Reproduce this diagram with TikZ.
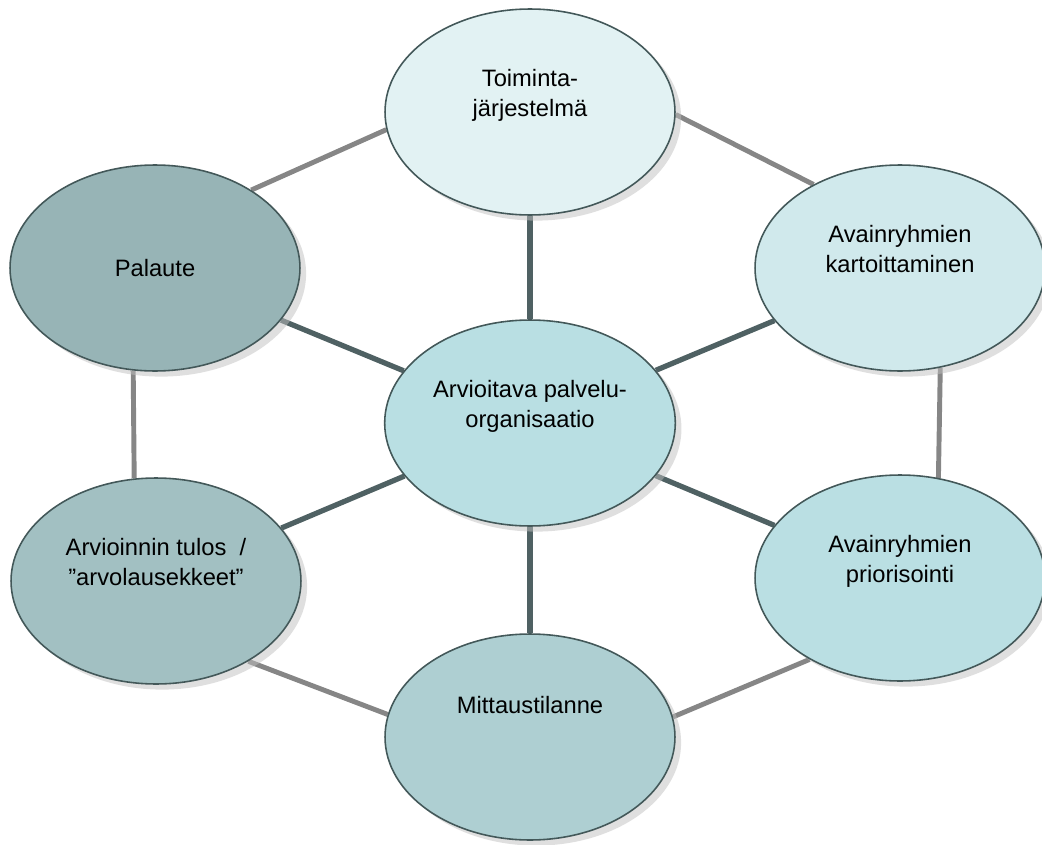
\documentclass[tikz,border=0pt]{standalone}
\usepackage{fontspec}
\setmainfont{Liberation Sans}
\usepackage{tikz}
\usetikzlibrary{shapes.geometric,shadows,backgrounds}

\definecolor{rim}{HTML}{435859}
\definecolor{spokegray}{HTML}{4F6163}
\definecolor{ringgray}{HTML}{868686}
\definecolor{toimfill}{HTML}{E2F2F3}
\definecolor{kartfill}{HTML}{D0E9EC}
\definecolor{priofill}{HTML}{BADFE3}
\definecolor{keskifill}{HTML}{B9DFE3}
\definecolor{mittfill}{HTML}{AECFD2}
\definecolor{arvifill}{HTML}{A2C0C2}
\definecolor{palafill}{HTML}{97B4B6}

\begin{document}
\begin{tikzpicture}
[
x=0.02cm, y=-0.02cm,
bubble/.style={ellipse, draw=rim, line width=0.9pt, minimum width=5.8cm, minimum height=4.12cm, align=center, font=\fontsize{13.5pt}{17pt}\selectfont, drop shadow={shadow xshift=3.5pt, shadow yshift=-3.2pt, fill=black!25}},
oneline/.style={text height=0pt, text depth=27pt},
twoline/.style={text height=5.5pt, text depth=0pt},
spoke/.style={draw=spokegray, line width=3pt},
ring/.style={draw=ringgray, line width=2.8pt}
]
\useasboundingbox (0,0) rectangle (1042,845);

%Nodes
\node[bubble, twoline, fill=toimfill]  (toim)  at (530,112) {Toiminta-\\järjestelmä};
\node[bubble, twoline, fill=kartfill]  (kart)  at (900,268) {Avainryhmien\\kartoittaminen};
\node[bubble, twoline, fill=priofill]  (prio)  at (900,578) {Avainryhmien\\priorisointi};
\node[bubble, oneline, fill=mittfill]  (mitt)  at (530,737) {Mittaustilanne};
\node[bubble, twoline, fill=arvifill]  (arvi)  at (156,581) {Arvioinnin tulos~ /\\”arvolausekkeet”};
\node[bubble,          fill=palafill]  (pala)  at (155,268) {Palaute};
\node[bubble, twoline, fill=keskifill] (keski) at (530,423) {Arvioitava palvelu-\\organisaatio};

%Lines
\begin{scope}[on background layer]
\draw[ring] (pala.39)  -- (toim.187);
\draw[ring] (toim.-1)  -- (kart.136);
\draw[ring] (kart.292) -- (prio.69);
\draw[ring] (prio.222) -- (mitt.8);
\draw[ring] (mitt.171) -- (arvi.319);
\draw[ring] (arvi.102) -- (pala.258);

\draw[spoke] (keski) -- (toim);
\draw[spoke] (keski) -- (kart);
\draw[spoke] (keski) -- (prio);
\draw[spoke] (keski) -- (mitt);
\draw[spoke] (keski) -- (arvi);
\draw[spoke] (keski) -- (pala);
\end{scope}

\end{tikzpicture}
\end{document}
